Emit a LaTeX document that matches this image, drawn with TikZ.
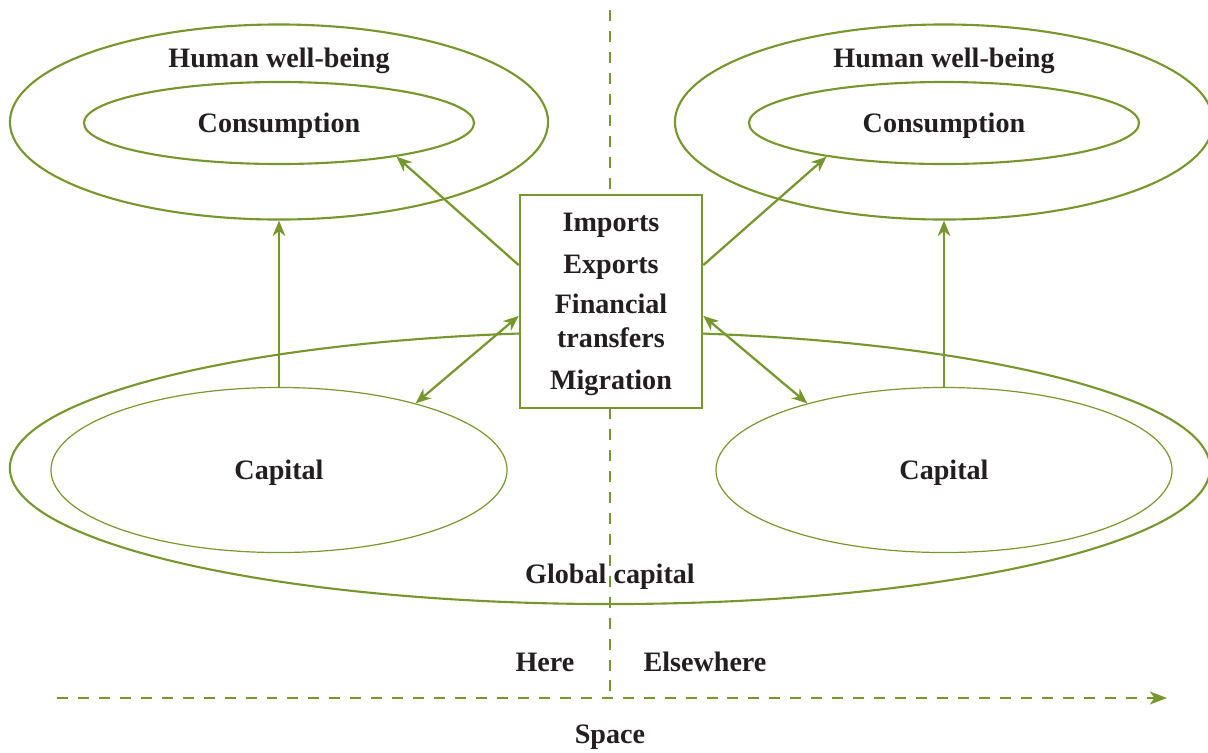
\documentclass[tikz,border=0pt]{standalone}
\usepackage{fontspec}
\setmainfont{Liberation Serif}
\usetikzlibrary{arrows.meta,shapes.geometric}
\definecolor{leaf}{RGB}{118,150,46}
\definecolor{ink}{RGB}{35,31,32}

\begin{document}
\begin{tikzpicture}[x=0.025cm,y=-0.025cm,
	every node/.style={font=\bfseries\fontsize{20}{24}\selectfont, text=ink, text depth=0pt},
	ring/.style={ellipse, draw=leaf, line width=1.5pt, inner sep=0pt},
	thinring/.style={ring, line width=0.85pt},
	flow/.style={draw=leaf, line width=1.6pt, -{Stealth[length=11pt,width=9pt,inset=3.5pt]}},
	swap/.style={flow, {Stealth[length=11pt,width=9pt,inset=3.5pt]}-{Stealth[length=11pt,width=9pt,inset=3.5pt]}},
	axis/.style={draw=leaf, line width=2pt, dash pattern=on 7.8pt off 7.1pt}]
\useasboundingbox (0,0) rectangle (1208,752);
\path (610,10) coordinate (top)
		(610,698) coordinate (origin)
		(57,698) coordinate (near)
		(1167,698) coordinate (far)
		;
\draw[axis] (top) -- (origin);
\draw[axis, -{Stealth[length=12pt,width=9pt,inset=3pt]}] (near) -- (far);
\path (610,468) node[ring, minimum width=30cm, minimum height=6.8cm] (glob) {}
		(610,574) node (globtext) {Global capital}
		(279,470) node[thinring, minimum width=11.4cm, minimum height=4.125cm] (capL) {Capital}
		(944,470) node[thinring, minimum width=11.4cm, minimum height=4.125cm] (capR) {Capital}
		(279,122) node[ring, minimum width=13.45cm, minimum height=4.875cm] (hwbL) {}
		(944,122) node[ring, minimum width=13.45cm, minimum height=4.875cm] (hwbR) {}
		(279,58) node (hwbLtext) {Human well-being}
		(944,58) node (hwbRtext) {Human well-being}
		(279,123) node[ring, minimum width=9.75cm, minimum height=2.05cm] (consL) {Consumption}
		(944,123) node[ring, minimum width=9.75cm, minimum height=2.05cm] (consR) {Consumption}
		(545,662) node (here) {Here}
		(705,662) node (elsewhere) {Elsewhere}
		(610,734) node (space) {Space}
		;
\path (611,301.5) node[draw=leaf, line width=1.8pt, fill=white, minimum width=4.55cm, minimum height=5.325cm, align=center] (trade)
		{Imports\\[5.8pt] Exports\\[4.4pt] Financial\\ transfers\\[5.8pt] Migration};
\draw[flow] (capL.north) -- (capL.north |- hwbL.south);
\draw[flow] (capR.north) -- (capR.north |- hwbR.south);
\draw[flow] ([yshift=0.91cm]trade.west) -- (consL.-16.7);
\draw[flow] ([yshift=0.91cm]trade.east) -- (consR.196.6);
\draw[swap] ([yshift=-0.36cm]trade.west) -- (capL.26.2);
\draw[swap] ([yshift=-0.36cm]trade.east) -- (capR.154.1);
\end{tikzpicture}
\end{document}
